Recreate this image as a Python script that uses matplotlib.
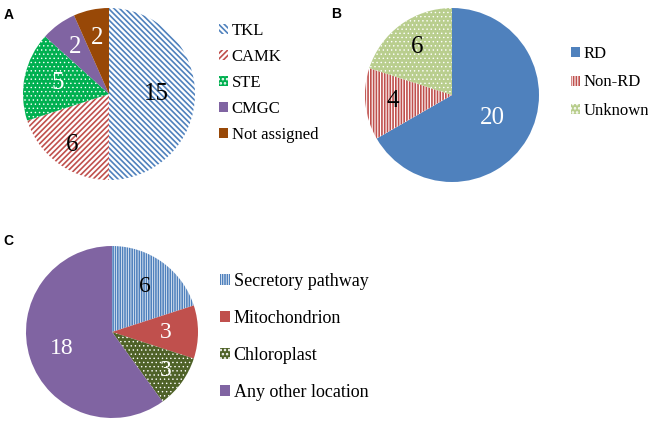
import matplotlib
matplotlib.use('agg')
import matplotlib.pyplot as plt
import numpy as np

plt.rcParams['font.family'] = ['Liberation Serif', 'DejaVu Serif']
plt.rcParams['hatch.linewidth'] = 1.2

# panel A: kinase groups
a_labels = ["TKL", "CAMK", "STE", "CMGC", "Not assigned"]
a_values = [15, 6, 5, 2, 2]
# panel B: RD / non-RD
b_labels = ["RD", "Non-RD", "Unknown"]
b_values = [20, 4, 6]
# panel C: predicted location
c_labels = ["Secretory pathway", "Mitochondrion", "Chloroplast", "Any other location"]
c_values = [6, 3, 3, 18]

# styles: (face, edge/hatch colour, hatch, number colour)
a_style = [("white", "#4F81BD", "\\" * 6, "black"),
           ("white", "#C0504D", "/" * 6, "black"),
           ("#00B050", "white", "." * 4, "white"),
           ("#8064A2", "#8064A2", None, "white"),
           ("#984807", "#984807", None, "white")]
b_style = [("#4F81BD", "#4F81BD", None, "white"),
           ("white", "#C0504D", "|" * 6, "black"),
           ("#B9CE8E", "white", "." * 4, "black")]
c_style = [("white", "#4F81BD", "|" * 7, "black"),
           ("#C0504D", "#C0504D", None, "white"),
           ("#4F6228", "white", "." * 4, "white"),
           ("#8064A2", "#8064A2", None, "white")]

W, H = 648, 423


def box(cx, cy, r):
    return [(cx - r) / W, (H - cy - r) / H, 2 * r / W, 2 * r / H]


def draw_pie(rect, values, labels, styles, dists, numsize, legsize, leg_xy, spacing):
    ax = fig.add_axes(rect)
    wedges, _ = ax.pie(values, startangle=90, counterclock=False, radius=1,
                       wedgeprops=dict(linewidth=0))
    total = float(sum(values))
    start = 90.0
    for w, v, st, d in zip(wedges, values, styles, dists):
        face, edge, hatch, tcol = st
        w.set_facecolor(face)
        w.set_edgecolor(edge)
        w.set_linewidth(0)
        if hatch:
            w.set_hatch(hatch)
            if '.' in hatch and hasattr(w, 'set_hatch_linewidth'):
                w.set_hatch_linewidth(0.5)
        span = 360.0 * v / total
        mid = np.deg2rad(start - span / 2)
        start -= span
        ax.text(d * np.cos(mid), d * np.sin(mid), str(v), ha='center', va='center',
                fontsize=numsize, color=tcol)
    ax.set_xlim(-1, 1)
    ax.set_ylim(-1, 1)
    ax.set_aspect('auto')
    ax.axis('off')
    fig.legend(wedges, labels, loc='upper left',
               bbox_to_anchor=(leg_xy[0] / W, 1 - leg_xy[1] / H),
               frameon=False, fontsize=legsize, handlelength=0.55, handleheight=0.55,
               handletextpad=0.2, labelspacing=spacing, borderpad=0, borderaxespad=0)


fig = plt.figure(figsize=(W / 100, H / 100), dpi=100)

draw_pie(box(109, 94, 86), a_values, a_labels, a_style,
         [0.55, 0.73, 0.61, 0.68, 0.67], 18, 12, (219, 23), 0.6)
draw_pie(box(452, 95, 87), b_values, b_labels, b_style,
         [0.53, 0.68, 0.68], 18, 12, (571, 46), 0.75)
draw_pie(box(112, 332, 86), c_values, c_labels, c_style,
         [0.65, 0.62, 0.77, 0.62], 17, 13, (220, 273), 1.1)

for letter, x, y in [("A", 4, 8), ("B", 331, 7), ("C", 3, 234)]:
    fig.text(x / W, 1 - y / H, letter, fontsize=10, fontweight='bold',
             family='Liberation Sans', ha='left', va='top')

fig.savefig("out.png", dpi=100)
